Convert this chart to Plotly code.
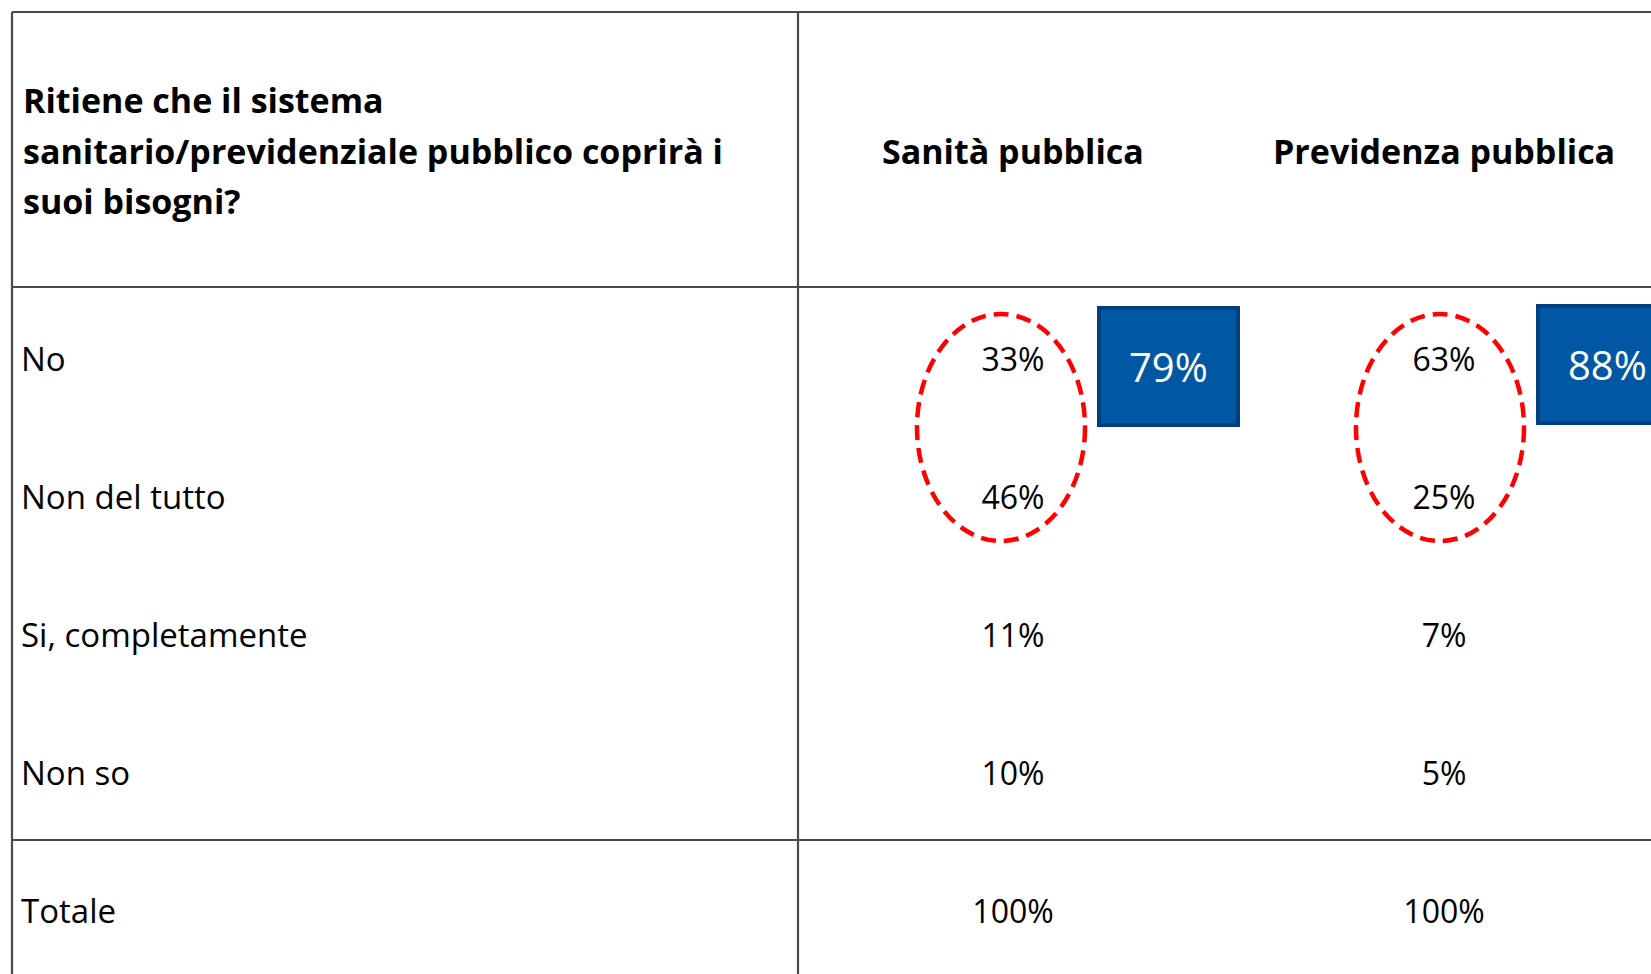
import plotly.graph_objects as go

# Data
title_lines = ["Ritiene che il sistema",
               "sanitario/previdenziale pubblico coprirà i",
               "suoi bisogni?"]
columns = ["Sanità pubblica", "Previdenza pubblica"]
categories = ["No", "Non del tutto", "Si, completamente", "Non so", "Totale"]
sanita = [33, 46, 11, 10, 100]
previdenza = [63, 25, 7, 5, 100]

W, H = 1651, 974
FONT = "Open Sans, sans-serif"
LINE = "#4a4a4a"

# layout grid (pixel coordinates)
left_x, div_x, top_y, head_y, tot_y = 12, 798, 12, 287, 840
col_x = [1013, 1444]
row_y0, row_step = 359, 138
rows_y = [row_y0 + i * row_step for i in range(len(categories))]
text_y = [y + 4 for y in rows_y]
ell_dx = [-12, -4]      # ellipse centre offset from column centre
box_dx = [86, 94]       # blue box left edge offset from column centre
box_dy = [0, -2]

fig = go.Figure()

# row labels
fig.add_trace(go.Scatter(
    x=[21] * len(categories), y=text_y, text=categories,
    mode="text", textposition="middle right",
    textfont=dict(family=FONT, size=33, color="black"),
    hoverinfo="skip", showlegend=False
))

# values
for cx, vals in zip(col_x, [sanita, previdenza]):
    fig.add_trace(go.Scatter(
        x=[cx] * len(vals), y=text_y, text=[f"{v}%" for v in vals],
        mode="text", textposition="middle center",
        textfont=dict(family=FONT, size=32, color="black"),
        hoverinfo="skip", showlegend=False
    ))

# header
for i, line in enumerate(title_lines):
    fig.add_annotation(x=21, y=100 + i * 50.5, text=f"<b>{line}</b>", showarrow=False,
                       xanchor="left", yanchor="middle",
                       font=dict(family=FONT, size=34, color="black"))
for cx, name in zip(col_x, columns):
    fig.add_annotation(x=cx, y=151, text=f"<b>{name}</b>", showarrow=False,
                       xanchor="center", yanchor="middle",
                       font=dict(family=FONT, size=34, color="black"))

# grid lines
shapes = [
    dict(type="line", x0=left_x, x1=W, y0=top_y, y1=top_y),
    dict(type="line", x0=left_x, x1=left_x, y0=top_y, y1=H),
    dict(type="line", x0=div_x, x1=div_x, y0=top_y, y1=H),
    dict(type="line", x0=left_x, x1=W, y0=head_y, y1=head_y),
    dict(type="line", x0=left_x, x1=W, y0=tot_y, y1=tot_y),
]
for s in shapes:
    s.update(xref="x", yref="y", line=dict(color=LINE, width=2.2))
    fig.add_shape(**s)

# highlight: dashed ellipse around No + Non del tutto, blue box with the sum
for cx, vals, ex, bx, by in zip(col_x, [sanita, previdenza], ell_dx, box_dx, box_dy):
    mid = (rows_y[0] + rows_y[1]) / 2
    fig.add_shape(type="circle", xref="x", yref="y",
                  x0=cx + ex - 84, x1=cx + ex + 84, y0=mid - 114, y1=mid + 113,
                  line=dict(color="#ff0000", width=4.5, dash="15px,8px"))
    fig.add_shape(type="rect", xref="x", yref="y",
                  x0=cx + bx, x1=cx + bx + 139,
                  y0=rows_y[0] - 51 + by, y1=rows_y[0] + 66 + by,
                  fillcolor="#0057a4", line=dict(color="#003f7d", width=4))
    fig.add_annotation(x=cx + bx + 69, y=rows_y[0] + 7 + by, text=f"{vals[0] + vals[1]}%",
                       showarrow=False, xanchor="center", yanchor="middle",
                       font=dict(family=FONT, size=40, color="white"))

fig.update_xaxes(range=[0, W], visible=False, fixedrange=True)
fig.update_yaxes(range=[H, 0], visible=False, fixedrange=True)
fig.update_layout(width=W, height=H, margin=dict(l=0, r=0, t=0, b=0),
                  plot_bgcolor="white", paper_bgcolor="white")

fig.write_html("out.html", config={"displayModeBar": False},
               post_script="document.body.style.margin='0';document.body.style.overflow='hidden';")
